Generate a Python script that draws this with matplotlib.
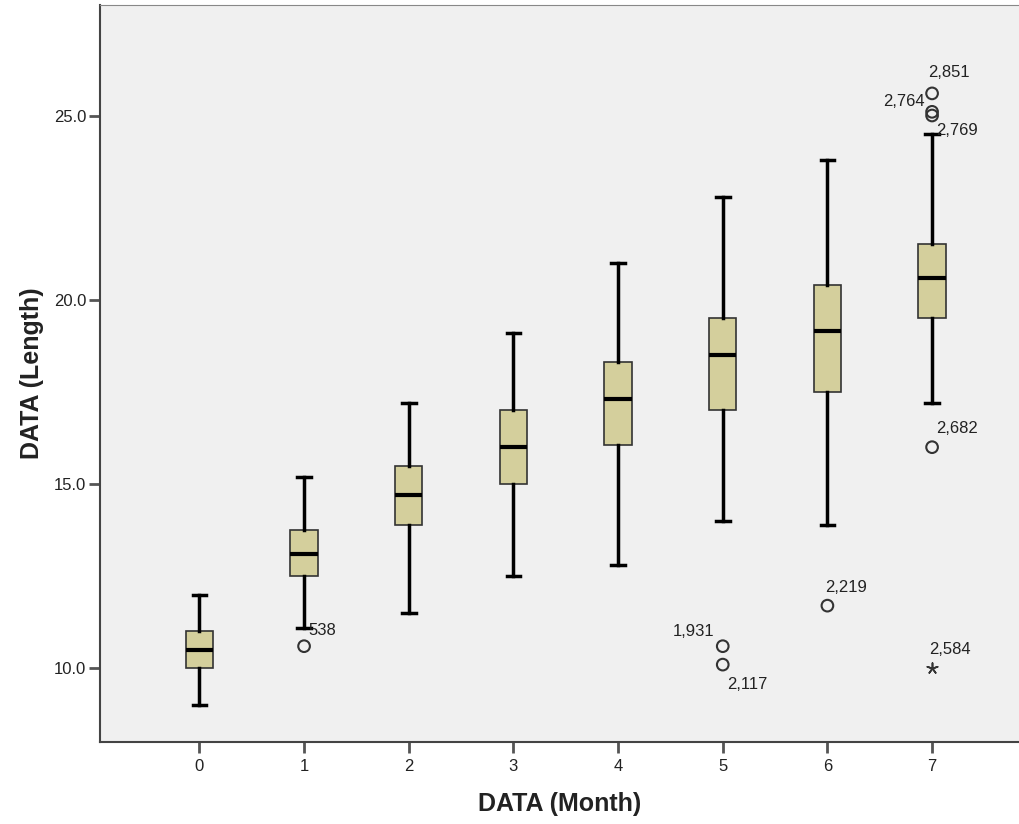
import matplotlib.pyplot as plt
from matplotlib.ticker import FormatStrFormatter

plt.rcParams['font.family'] = ['Liberation Sans', 'DejaVu Sans']

months = [0, 1, 2, 3, 4, 5, 6, 7]
whisker_low = [9.0, 11.1, 11.5, 12.5, 12.8, 14.0, 13.9, 17.2]
q1 = [10.0, 12.5, 13.9, 15.0, 16.05, 17.0, 17.5, 19.5]
median = [10.5, 13.1, 14.7, 16.0, 17.3, 18.5, 19.15, 20.6]
q3 = [11.0, 13.75, 15.5, 17.0, 18.3, 19.5, 20.4, 21.5]
whisker_high = [12.0, 15.2, 17.2, 19.1, 21.0, 22.8, 23.8, 24.5]

# outliers: (month, value, case label)
out_month = [1, 5, 5, 6, 7, 7, 7, 7]
out_value = [10.6, 10.6, 10.1, 11.7, 25.6, 25.1, 25.0, 16.0]
out_label = ['538', '1,931', '2,117', '2,219', '2,851', '2,764', '2,769', '2,682']
# extreme values
ext_month = [7]
ext_value = [10.0]
ext_label = ['2,584']

stats = []
for i in range(len(months)):
    stats.append({'whislo': whisker_low[i], 'q1': q1[i], 'med': median[i],
                  'q3': q3[i], 'whishi': whisker_high[i], 'fliers': []})

fig = plt.figure(figsize=(10.2, 8.24), dpi=100)
ax = fig.add_axes([0.098, 0.0995, 0.902, 0.8945])
ax.set_facecolor('#f0f0f0')

ax.bxp(stats, positions=months, widths=0.26, patch_artist=True,
       boxprops=dict(facecolor='#d4cf9c', edgecolor='#333333', linewidth=1.2),
       medianprops=dict(color='black', linewidth=3),
       whiskerprops=dict(color='black', linewidth=2.5),
       capprops=dict(color='black', linewidth=2.5),
       capwidths=0.13)

ax.scatter(out_month, out_value, s=70, facecolors='none', edgecolors='#333333',
           linewidths=1.5, zorder=5)
ax.scatter(ext_month, ext_value, s=60, marker=(5, 2), color='#333333',
           linewidths=1.2, zorder=5)

# label offsets in points and alignment
offsets = {'538': (3, 6, 'left'), '1,931': (-6, 5, 'right'), '2,117': (3, -20, 'left'),
           '2,219': (-2, 8, 'left'), '2,851': (-3, 10, 'left'), '2,764': (-5, 2, 'right'),
           '2,769': (3, -16, 'left'), '2,682': (3, 8, 'left'), '2,584': (-2, 8, 'left')}
for m, v, lab in zip(out_month + ext_month, out_value + ext_value, out_label + ext_label):
    dx, dy, ha = offsets[lab]
    ax.annotate(lab, (m, v), xytext=(dx, dy), textcoords='offset points',
                fontsize=12, color='#222222', va='bottom', ha=ha)

ax.set_xlim(-0.95, 7.84)
ax.set_ylim(8.0, 28.0)
ax.set_xticks(months)
ax.set_yticks([10, 15, 20, 25])
ax.yaxis.set_major_formatter(FormatStrFormatter('%.1f'))
ax.tick_params(axis='both', labelsize=12, length=8, width=2, color='#555555',
               labelcolor='#222222')
ax.tick_params(axis='y', pad=2)
ax.tick_params(axis='x', pad=4)

for side in ['left', 'bottom']:
    ax.spines[side].set_color('#444444')
    ax.spines[side].set_linewidth(1.5)
ax.spines['top'].set_color('#888888')
ax.spines['right'].set_visible(False)

ax.set_xlabel('DATA (Month)', fontsize=18, fontweight='bold', color='#222222', labelpad=13)
ax.set_ylabel('DATA (Length)', fontsize=18, fontweight='bold', color='#222222', labelpad=7)

plt.savefig('out.png', dpi=100)
